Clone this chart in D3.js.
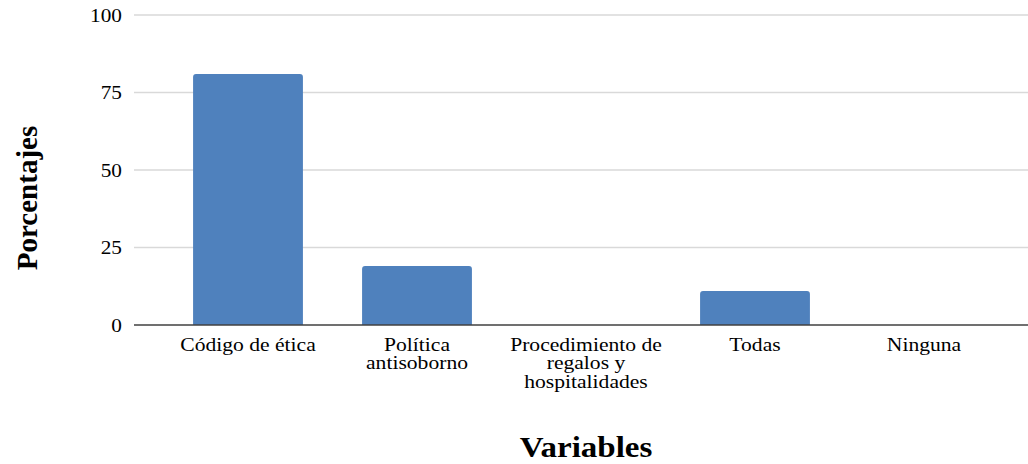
<!DOCTYPE html>
<html><head><meta charset="utf-8">
<script src="https://cdn.jsdelivr.net/npm/d3@7"></script>
<style>body{margin:0;background:#fff}svg{display:block}</style>
</head><body>
<svg id="c" width="1028" height="464"></svg>
<script>
const categories = [["Código de ética"],["Política","antisoborno"],["Procedimiento de","regalos y","hospitalidades"],["Todas"],["Ninguna"]];
const values = [81, 19, 0, 11, 0];
const yTicks = [0, 25, 50, 75, 100];
const yTitle = "Porcentajes";
const xTitle = "Variables";

const svg = d3.select("#c");
const font = "'Liberation Serif','Times New Roman',serif";
const gridL = 134, gridR = 1028;
const x = d3.scaleBand().domain(d3.range(categories.length)).range([163.5, 1008.5]).paddingInner(0.35).paddingOuter(0.175);
const y = d3.scaleLinear().domain([0, 100]).range([325, 15]);

// gridlines
svg.append("g").selectAll("line").data(yTicks.filter(t=>t>0)).join("line")
  .attr("x1", gridL).attr("x2", gridR).attr("y1", d=>y(d)).attr("y2", d=>y(d))
  .attr("stroke", "#d9d9d9").attr("stroke-width", 1.5);

// y tick labels
const yAxis = d3.axisLeft(y).tickValues(yTicks).tickSize(0).tickPadding(0);
const ya = svg.append("g").attr("transform", `translate(${gridL-12},0)`).call(yAxis);
ya.select(".domain").remove();
ya.attr("font-family", font);
ya.selectAll("text").attr("font-family", font).attr("font-size", 19).attr("fill", "#000")
  .attr("transform", "scale(1.12,1)").attr("x", 0);

// bars
const r = 3;
const barData = values.map((v,i)=>({v, i})).filter(d=>d.v>0);
svg.append("g").selectAll("path").data(barData).join("path")
  .attr("d", d=>{
    const x0 = x(d.i), w = x.bandwidth(), yt = y(d.v), yb = y(0);
    return `M${x0},${yb}V${yt+r}Q${x0},${yt} ${x0+r},${yt}H${x0+w-r}Q${x0+w},${yt} ${x0+w},${yt+r}V${yb}Z`;
  })
  .attr("fill", "#4f81bd");

// baseline
svg.append("line").attr("x1", gridL).attr("x2", gridR).attr("y1", y(0)).attr("y2", y(0))
  .attr("stroke", "#404040").attr("stroke-width", 1.5);

// category labels
const cg = svg.append("g").selectAll("text").data(categories).join("text")
  .attr("transform", (d,i)=>`translate(${x(i)+x.bandwidth()/2},351) scale(1.2,1)`)
  .attr("text-anchor", "middle").attr("font-family", font).attr("font-size", 18).attr("fill", "#000");
cg.selectAll("tspan").data(d=>d).join("tspan")
  .attr("x", 0).attr("y", (d,j)=>j*18.5).text(d=>d);

// axis titles
svg.append("text").attr("transform", "translate(37,198) rotate(-90)")
  .attr("text-anchor", "middle").attr("font-family", font).attr("font-size", 29).attr("font-weight", "bold")
  .text(yTitle);
svg.append("text").attr("transform", "translate(586,457) scale(1.1,1)")
  .attr("text-anchor", "middle").attr("font-family", font).attr("font-size", 30).attr("font-weight", "bold")
  .text(xTitle);
</script>
</body></html>
